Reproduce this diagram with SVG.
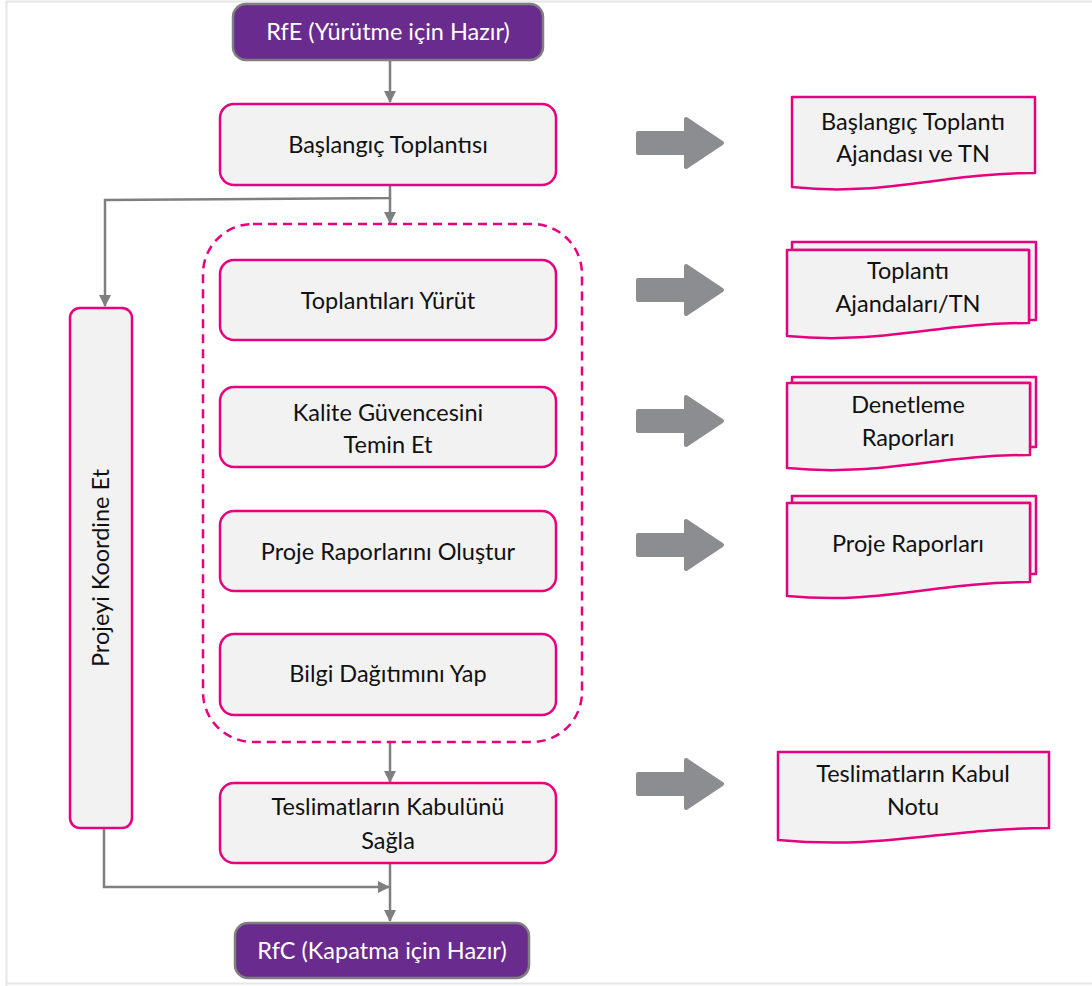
<svg xmlns="http://www.w3.org/2000/svg" width="1092" height="986" viewBox="0 0 1092 986">
  <defs>
    <style>
      .bg { fill: #ffffff; }
      .frame { stroke: #e6e6e6; stroke-width: 2; fill: none; }
      .task { fill: #f2f2f2; stroke: #e6007e; stroke-width: 2.5; }
      .doc { fill: #f2f2f2; stroke: #e6007e; stroke-width: 2.5; stroke-linejoin: round; }
      .term { fill: #6a2b8e; stroke: #7f7f7f; stroke-width: 2.5; }
      .group { fill: none; stroke: #e6007e; stroke-width: 2.5; stroke-dasharray: 9 6; }
      .wire { fill: none; stroke: #7f7f7f; stroke-width: 2.5; }
      .out { fill: #8b8d90; stroke: #8b8d90; stroke-width: 4; stroke-linejoin: round; }
      text { font-family: Lato, "Open Sans", "Liberation Sans", sans-serif; font-size: 23.5px; fill: #111111; text-anchor: middle; }
      .light { fill: #ffffff; }
    </style>
    <marker id="head" viewBox="0 0 12 12" refX="11" refY="6" markerWidth="12" markerHeight="12" markerUnits="userSpaceOnUse" orient="auto">
      <path d="M0,0 L12,6 L0,12 Z" fill="#7f7f7f"/>
    </marker>
    <path id="blockArrow" d="M0,-10 H48 V-24 L84,0 L48,24 V10 H0 Z"/>
  </defs>

  <rect class="bg" x="0" y="0" width="1092" height="986"/>
  <path class="frame" d="M6.5,986 V1.5 H1092 M6.5,983.5 H1092"/>

  <!-- connectors -->
  <g id="connectors">
    <line class="wire" x1="390" y1="60" x2="390" y2="102" marker-end="url(#head)"/>
    <polyline class="wire" points="390,185 390,198 105,200 105,306" marker-end="url(#head)"/>
    <line class="wire" x1="390" y1="198" x2="390" y2="223" marker-end="url(#head)"/>
    <line class="wire" x1="390" y1="742" x2="390" y2="782" marker-end="url(#head)"/>
    <line class="wire" x1="390" y1="863" x2="390" y2="921" marker-end="url(#head)"/>
    <polyline class="wire" points="104,828 104,887 389,887" marker-end="url(#head)"/>
  </g>

  <!-- grey output arrows -->
  <g id="outputs">
    <use href="#blockArrow" class="out" x="638" y="143"/>
    <use href="#blockArrow" class="out" x="638" y="290"/>
    <use href="#blockArrow" class="out" x="638" y="421"/>
    <use href="#blockArrow" class="out" x="638" y="545"/>
    <use href="#blockArrow" class="out" x="638" y="784"/>
  </g>

  <g id="rfe">
    <rect class="term" x="233" y="4" width="310" height="56" rx="13"/>
    <text class="light" x="388" y="40">RfE (Yürütme için Hazır)</text>
  </g>

  <g id="baslangic">
    <rect class="task" x="220" y="104" width="336" height="81" rx="14"/>
    <text x="388" y="153">Başlangıç Toplantısı</text>
  </g>

  <g id="surec-grubu">
    <rect class="group" x="203" y="224" width="379" height="518" rx="50"/>
  </g>

  <g id="toplantilar">
    <rect class="task" x="220" y="260" width="336" height="80" rx="14"/>
    <text x="388" y="309">Toplantıları Yürüt</text>
  </g>

  <g id="kalite">
    <rect class="task" x="220" y="387" width="336" height="80" rx="14"/>
    <text x="388" y="421">Kalite Güvencesini</text>
    <text x="388" y="453">Temin Et</text>
  </g>

  <g id="raporlar">
    <rect class="task" x="220" y="511" width="336" height="80" rx="14"/>
    <text x="388" y="560">Proje Raporlarını Oluştur</text>
  </g>

  <g id="dagitim">
    <rect class="task" x="220" y="634" width="336" height="81" rx="14"/>
    <text x="388" y="682">Bilgi Dağıtımını Yap</text>
  </g>

  <g id="kabul">
    <rect class="task" x="220" y="783" width="336" height="80" rx="14"/>
    <text x="388" y="815">Teslimatların Kabulünü</text>
    <text x="388" y="849">Sağla</text>
  </g>

  <g id="koordine">
    <rect class="task" x="70" y="308" width="62" height="520" rx="10"/>
    <text transform="translate(109,568) rotate(-90)">Projeyi Koordine Et</text>
  </g>

  <g id="rfc">
    <rect class="term" x="235" y="923" width="294" height="55" rx="13"/>
    <text class="light" x="382" y="959">RfC (Kapatma için Hazır)</text>
  </g>

  <!-- documents -->
  <g id="doc-baslangic">
    <path class="doc" d="M792,97 H1035 V173 C940,173 885,197 792,187 Z"/>
    <text x="913" y="130">Başlangıç Toplantı</text>
    <text x="913" y="162">Ajandası ve TN</text>
  </g>

  <g id="doc-toplanti">
    <path class="doc" d="M792,242 H1036 V320 H1029 V250 H792 Z"/>
    <path class="doc" d="M787,250 H1029 V323 C935,323 880,345 787,336 Z"/>
    <text x="908" y="279">Toplantı</text>
    <text x="908" y="312">Ajandaları/TN</text>
  </g>

  <g id="doc-denetleme">
    <path class="doc" d="M792,377 H1036 V447 H1030 V383 H792 Z"/>
    <path class="doc" d="M787,383 H1030 V455 C935,455 880,477 787,468 Z"/>
    <text x="908" y="413">Denetleme</text>
    <text x="908" y="446">Raporları</text>
  </g>

  <g id="doc-proje">
    <path class="doc" d="M792,496 H1036 V574 H1030 V503 H792 Z"/>
    <path class="doc" d="M787,503 H1030 V582 C935,582 880,605 787,596 Z"/>
    <text x="908" y="552">Proje Raporları</text>
  </g>

  <g id="doc-kabul">
    <path class="doc" d="M778,752 H1049 V828 C945,828 885,850 778,840 Z"/>
    <text x="913" y="782">Teslimatların Kabul</text>
    <text x="913" y="815">Notu</text>
  </g>
</svg>
